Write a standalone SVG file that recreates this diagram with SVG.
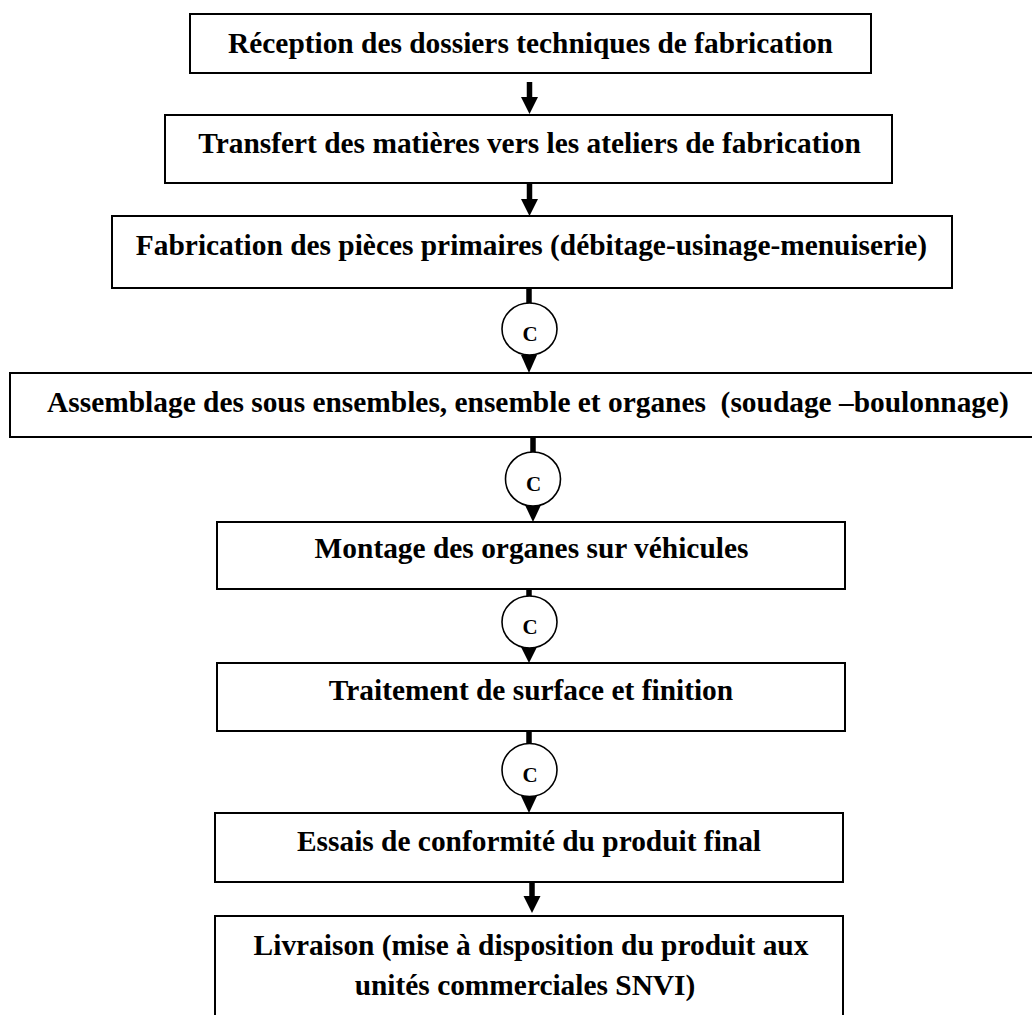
<svg xmlns="http://www.w3.org/2000/svg" width="1032" height="1015" viewBox="0 0 1032 1015">
<style>
.box{fill:#fff;stroke:#000;stroke-width:2}
.t{font-family:"Liberation Serif","Times New Roman",serif;font-weight:bold;font-size:29.4px;fill:#000;text-anchor:middle}
.c{font-family:"Liberation Serif","Times New Roman",serif;font-weight:bold;font-size:21px;fill:#000;text-anchor:middle}
.circ{fill:#fff;stroke:#000;stroke-width:1.6}
.ln{stroke:#000;stroke-width:5.5;fill:none}
.hd{fill:#000}
</style>
<rect width="1032" height="1015" fill="#fff"/>
<g id="connectors">
<line class="ln" x1="529.5" y1="82" x2="529.5" y2="98"/>
<polygon class="hd" points="521,97 538,97 529.5,114"/>
<line class="ln" x1="529.5" y1="183" x2="529.5" y2="200"/>
<polygon class="hd" points="521,199 538,199 529.5,216"/>
<line class="ln" x1="529" y1="288" x2="529" y2="304"/>
<polygon class="hd" points="521,355 537,355 529,373"/>
<line class="ln" x1="533" y1="437" x2="533" y2="453"/>
<polygon class="hd" points="525,505 541,505 533,522"/>
<line class="ln" x1="529" y1="589" x2="529" y2="597"/>
<polygon class="hd" points="521,647 537,647 529,663"/>
<line class="ln" x1="529" y1="731" x2="529" y2="745"/>
<polygon class="hd" points="521,796 537,796 529,813"/>
<line class="ln" x1="532" y1="882" x2="532" y2="897"/>
<polygon class="hd" points="523.5,896 540.5,896 532,913"/>
</g>
<g id="n1"><rect class="box" x="190" y="14" width="681" height="59"/><text class="t" x="530.5" y="53">Réception des dossiers techniques de fabrication</text></g>
<g id="n2"><rect class="box" x="165" y="115" width="727" height="68"/><text class="t" x="529.5" y="153">Transfert des matières vers les ateliers de fabrication</text></g>
<g id="n3"><rect class="box" x="112" y="216" width="840" height="72"/><text class="t" x="531.5" y="255">Fabrication des pièces primaires (débitage-usinage-menuiserie)</text></g>
<g id="c1"><ellipse class="circ" cx="529.5" cy="329" rx="27.5" ry="26"/><text class="c" x="530" y="341">C</text></g>
<g id="n4"><rect class="box" x="10" y="373" width="1030" height="64"/><text class="t" x="528" y="412" xml:space="preserve">Assemblage des sous ensembles, ensemble et organes  (soudage –boulonnage)</text></g>
<g id="c2"><ellipse class="circ" cx="533" cy="479" rx="27.5" ry="27"/><text class="c" x="533.5" y="491">C</text></g>
<g id="n5"><rect class="box" x="217" y="522" width="628" height="67"/><text class="t" x="531.5" y="558">Montage des organes sur véhicules</text></g>
<g id="c3"><ellipse class="circ" cx="529.5" cy="622" rx="27.5" ry="26"/><text class="c" x="530" y="634">C</text></g>
<g id="n6"><rect class="box" x="217" y="663" width="628" height="68"/><text class="t" x="531" y="700">Traitement de surface et finition</text></g>
<g id="c4"><ellipse class="circ" cx="529.5" cy="770" rx="27.5" ry="26.5"/><text class="c" x="530" y="782">C</text></g>
<g id="n7"><rect class="box" x="215" y="813" width="628" height="69"/><text class="t" x="529" y="851">Essais de conformité du produit final</text></g>
<g id="n8"><rect class="box" x="215" y="916" width="628" height="110"/><text class="t" x="531" y="955">Livraison (mise à disposition du produit aux</text><text class="t" x="525" y="995">unités commerciales SNVI)</text></g>
</svg>
